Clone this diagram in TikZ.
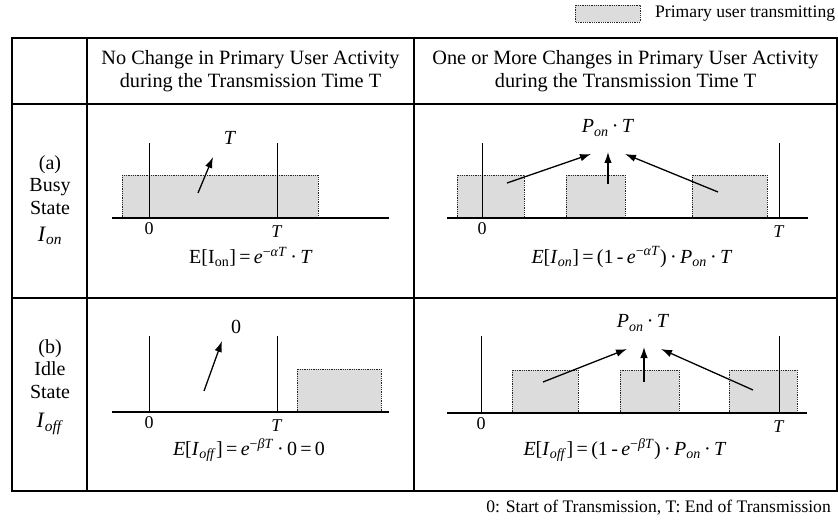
\documentclass[tikz,border=0pt]{standalone}
\usepackage{fontspec}
\setmainfont{Liberation Serif}
\usetikzlibrary{arrows.meta,positioning}
\definecolor{busygray}{RGB}{220,220,220}
\newcommand{\subtxt}[1]{\textsubscript{#1}}
\newcommand{\suptxt}[1]{\textsuperscript{#1}}
\tikzset{
  busy/.style={draw=black!85,densely dotted,fill=busygray,line width=.8pt},
  axisline/.style={line width=1.3pt},
  timeline/.style={line width=1pt},
  arr/.style={-{Latex[length=11pt,width=7.5pt]},line width=1.3pt},
  gridline/.style={line width=1.2pt},
  headtext/.style={align=center,font=\fontsize{20.3}{23}\selectfont},
  labtext/.style={align=center,font=\fontsize{20}{22.5}\selectfont},
  formula/.style={font=\fontsize{20}{23}\selectfont,inner sep=0pt},
  toplab/.style={font=\fontsize{20}{23}\selectfont,inner sep=0pt},
  tlab/.style={font=\fontsize{18}{20}\selectfont,inner sep=0pt},
  small/.style={font=\fontsize{17.6}{20}\selectfont,inner sep=0pt}
}

\begin{document}
\begin{tikzpicture}[x=1pt,y=-1pt]
  \useasboundingbox (0,0) rectangle (838,521);

  % legend
  \draw[busy] (575,5) rectangle (640,22);
  \node[small,anchor=west] (legend) at (655,14) {Primary user transmitting};

  % table
  \draw[gridline] (12,38) rectangle (837,491);
  \foreach \y in {104,298}{
    \draw[gridline] (12,\y) -- (837,\y);
  }
  \foreach \x in {87,414}{
    \draw[gridline] (\x,38) -- (\x,491);
  }

  \node[headtext] (hleft) at (250.5,71)
    {No Change in Primary User Activity\\during the Transmission Time T};
  \node[headtext] (hright) at (625.5,71)
    {One or More Changes in Primary User Activity\\during the Transmission Time T};

  \node[labtext] (rowa) at (50,185) {(a)\\Busy\\State};
  \node[font=\fontsize{22}{24}\selectfont] (ion) at (50,236) {\textit{I}\subtxt{\textit{on}}};
  \node[labtext] (rowb) at (50,369) {(b)\\Idle\\State};
  \node[font=\fontsize{22}{24}\selectfont] (ioff) at (50,424) {\textit{I}\subtxt{\textit{off}}};

  % busy, no change
  \begin{scope}[shift={(149,218)}]
    \draw[busy] (-27,-43) rectangle (169,0);
    \draw[axisline] (-37,0) -- (240,0);
    \draw[timeline] (0,0) -- (0,-75);
    \draw[timeline] (128,0) -- (128,-75);
    \node[tlab] (aL0) at (0,11) {0};
    \node[tlab] (aLT) at (128,14) {\textit{T}};
    \node[toplab] (aLtop) at (81,-80) {\textit{T}};
    \coordinate (aLfrom) at (49,-25);
    \coordinate (aLtip) at (64,-61);
    \draw[arr] (aLfrom) -- (aLtip);
  \end{scope}

  % busy, changes
  \begin{scope}[shift={(482,218)}]
    \foreach \a/\b in {-25/42,84/143,210/285}{
      \draw[busy] (\a,-43) rectangle (\b,0);
    }
    \draw[axisline] (-35,0) -- (326,0);
    \draw[timeline] (0,0) -- (0,-75);
    \draw[timeline] (297,0) -- (297,-75);
    \node[tlab] (aR0) at (0,11) {0};
    \node[tlab] (aRT) at (297,14) {\textit{T}};
    \node[toplab] (aRtop) at (126,-90) {\textit{P}\subtxt{\textit{on}}\,·\,\textit{T}};
    \coordinate (aRl) at (25,-35);
    \coordinate (aRm) at (126,-34);
    \coordinate (aRr) at (236,-26);
    \coordinate (aRtl) at (109,-64);
    \coordinate (aRtm) at (126,-66);
    \coordinate (aRtr) at (143,-64);
    \draw[arr] (aRl) -- (aRtl);
    \draw[arr] (aRm) -- (aRtm);
    \draw[arr] (aRr) -- (aRtr);
  \end{scope}

  % idle, no change
  \begin{scope}[shift={(149,412)}]
    \draw[busy] (148,-43) rectangle (232,0);
    \draw[axisline] (-37,0) -- (240,0);
    \draw[timeline] (0,0) -- (0,-76);
    \draw[timeline] (128,0) -- (128,-76);
    \node[tlab] (bL0) at (0,11) {0};
    \node[tlab] (bLT) at (128,14) {\textit{T}};
    \node[toplab] (bLtop) at (87,-85) {0};
    \coordinate (bLfrom) at (55,-21);
    \coordinate (bLtip) at (73,-71);
    \draw[arr] (bLfrom) -- (bLtip);
  \end{scope}

  % idle, changes
  \begin{scope}[shift={(481,413)}]
    \foreach \a/\b in {31/97,139/198,248/316}{
      \draw[busy] (\a,-43) rectangle (\b,0);
    }
    \draw[axisline] (-34,0) -- (326,0);
    \draw[timeline] (0,0) -- (0,-77);
    \draw[timeline] (298,0) -- (298,-77);
    \node[tlab] (bR0) at (0,11) {0};
    \node[tlab] (bRT) at (298,14) {\textit{T}};
    \node[toplab] (bRtop) at (162,-90) {\textit{P}\subtxt{\textit{on}}\,·\,\textit{T}};
    \coordinate (bRl) at (62,-31);
    \coordinate (bRm) at (163,-31);
    \coordinate (bRr) at (272,-23);
    \coordinate (bRtl) at (146,-64);
    \coordinate (bRtm) at (163,-66);
    \coordinate (bRtr) at (180,-64);
    \draw[arr] (bRl) -- (bRtl);
    \draw[arr] (bRm) -- (bRtm);
    \draw[arr] (bRr) -- (bRtr);
  \end{scope}

  % expected values
  \node[formula] (fa1) at (251,257)
    {E[I\subtxt{on}]\,=\,\textit{e}\suptxt{−\textit{αT}}\,·\,\textit{T}};
  \node[formula] (fa2) at (632,257)
    {\textit{E}[\textit{I}\subtxt{\textit{on}}]\,=\,(1\,-\,\textit{e}\suptxt{−\textit{αT}})\,·\,\textit{P}\subtxt{\textit{on}}\,·\,\textit{T}};
  \node[formula] (fb1) at (249,450)
    {\textit{E}[\textit{I}\subtxt{\textit{off}}]\,=\,\textit{e}\suptxt{−\textit{βT}}\,·\,0\,=\,0};
  \node[formula] (fb2) at (625,450)
    {\textit{E}[\textit{I}\subtxt{\textit{off}}]\,=\,(1\,-\,\textit{e}\suptxt{−\textit{βT}})\,·\,\textit{P}\subtxt{\textit{on}}\,·\,\textit{T}};

  \node[small,anchor=east] (note) at (831,508)
    {0: Start of Transmission, T: End of Transmission};
\end{tikzpicture}
\end{document}
